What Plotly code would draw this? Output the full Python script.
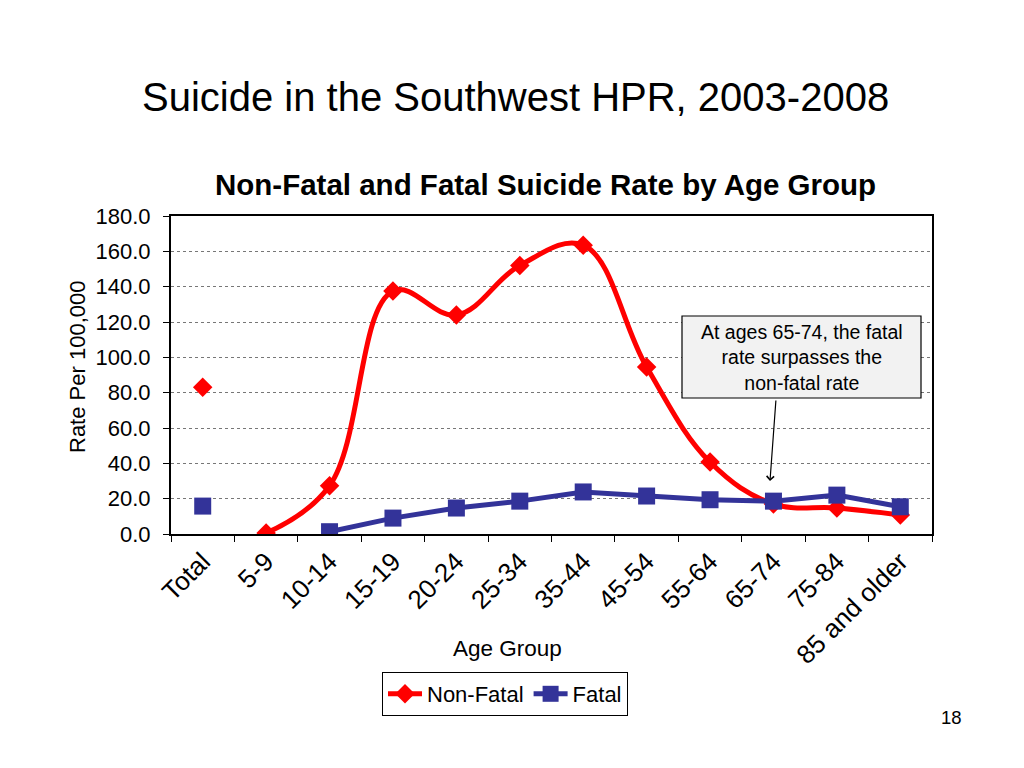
import plotly.graph_objects as go

categories = ["Total", "5-9", "10-14", "15-19", "20-24", "25-34", "35-44",
              "45-54", "55-64", "65-74", "75-84", "85 and older"]
non_fatal = [83.0, 0.5, 27.3, 137.5, 124.0, 152.0, 163.5, 94.5, 40.7, 17.0, 14.7, 10.8]
fatal = [15.8, None, 1.3, 9.0, 14.7, 18.6, 23.8, 21.5, 19.4, 18.6, 22.0, 15.4]
y_ticks = [0, 20, 40, 60, 80, 100, 120, 140, 160, 180]

RED = "#FF0000"
BLUE = "#333399"
FONT = "Liberation Sans, Arial, sans-serif"

W, H = 1024, 768
OFF = 8  # page body margin
# plot area in page pixels
PX0, PX1, PY0, PY1 = 171, 932, 216, 534
L, R = PX0 - OFF, W - (PX1 - OFF)
T, B = PY0 - OFF, H - (PY1 - OFF)
pw, ph = PX1 - PX0, PY1 - PY0
def px(xp): return (xp - PX0) / pw
def py(yp): return (PY1 - yp) / ph

fig = go.Figure()

# Total points (standalone)
fig.add_trace(go.Scatter(
    x=categories[:1], y=non_fatal[:1], mode="markers", showlegend=False,
    marker=dict(symbol="diamond", size=15, color=RED)))
fig.add_trace(go.Scatter(
    x=categories[:1], y=fatal[:1], mode="markers", showlegend=False,
    marker=dict(symbol="square", size=17, color=BLUE)))

fig.add_trace(go.Scatter(
    x=categories[1:], y=non_fatal[1:], mode="lines+markers", name="Non-Fatal",
    line=dict(color=RED, width=5, shape="spline", smoothing=1.1),
    marker=dict(symbol="diamond", size=15, color=RED)))
fig.add_trace(go.Scatter(
    x=categories[2:], y=fatal[2:], mode="lines+markers", name="Fatal",
    line=dict(color=BLUE, width=5),
    marker=dict(symbol="square", size=17, color=BLUE)))

fig.update_layout(
    width=W, height=H,
    margin=dict(l=L, r=R, t=T, b=B),
    paper_bgcolor="white", plot_bgcolor="white",
    font=dict(family=FONT, color="black"),
    showlegend=True,
    legend=dict(orientation="h", xref="paper", yref="paper",
                x=px(505), y=py(672), xanchor="center", yanchor="top",
                bordercolor="black", borderwidth=1, font=dict(size=22),
                itemwidth=34, tracegroupgap=0),
    xaxis=dict(
        type="category", range=[-0.5, 11.5],
        tickangle=-45, tickfont=dict(size=26),
        ticks="outside", tickson="boundaries", ticklen=6, tickcolor="black",
        showline=True, linecolor="black", linewidth=2, mirror=True,
        showgrid=False, zeroline=False),
    yaxis=dict(
        range=[0, 180], tickvals=y_ticks,
        ticktext=[f"{v:.1f}" for v in y_ticks],
        tickfont=dict(size=22), ticks="outside", ticklen=6, tickcolor="black",
        showline=True, linecolor="black", linewidth=2, mirror=True,
        showgrid=True, gridcolor="#777777", griddash="dot", gridwidth=1,
        zeroline=False, ticklabelstandoff=8),
)

def txt(text, x, y, size, xanchor="center", angle=0):
    fig.add_annotation(text=text, xref="paper", yref="paper", x=px(x), y=py(y),
                       xanchor=xanchor, yanchor="middle", showarrow=False,
                       textangle=angle, font=dict(size=size, family=FONT))

txt("Suicide in the Southwest HPR, 2003-2008", 140, 97, 40, xanchor="left")
txt("<b>Non-Fatal and Fatal Suicide Rate by Age Group</b>", 545, 184, 29.5)
txt("Age Group", 507, 648, 22.5)
txt("Rate Per 100,000", 77, 367, 22, angle=-90)
txt("18", 951, 717, 18.5)

# Callout box
fig.add_shape(type="rect", xref="paper", yref="paper",
              x0=px(682), x1=px(921), y0=py(398), y1=py(316),
              fillcolor="#F2F2F2", line=dict(color="black", width=1.2))
fig.add_annotation(
    text="At ages 65-74, the fatal<br>rate surpasses the<br>non-fatal rate",
    xref="paper", yref="paper", x=px(801.5), y=py(357),
    xanchor="center", yanchor="middle", showarrow=False,
    font=dict(size=19.5, family=FONT), align="center")
fig.add_annotation(
    xref="paper", yref="paper", axref="pixel", ayref="pixel",
    x=px(770), y=py(481), ax=6, ay=-82,
    showarrow=True, arrowhead=4, arrowsize=1.2, arrowwidth=1.2,
    arrowcolor="black", text="")

fig.write_html("out.html")
